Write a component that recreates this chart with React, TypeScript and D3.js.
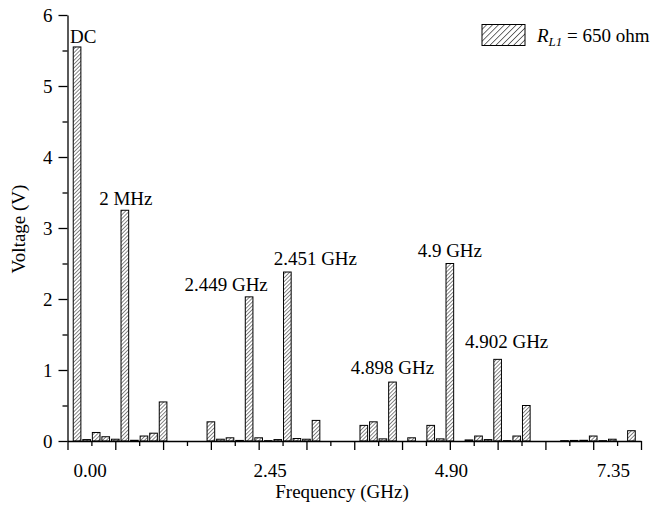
import * as d3 from "d3";
import { useEffect, useRef } from "react";

// ---- data ----
// bar slots 1..59 on the categorical x axis (0..60), null = no bar
const voltage: (number | null)[] = [
  5.55, 0.02, 0.12, 0.06, 0.025, 3.25, 0.01, 0.07, 0.11, 0.55, // 1-10
  null, null, null, null, 0.27, 0.025, 0.045, 0.008, 2.03, 0.045, // 11-20
  0.005, 0.02, 2.38, 0.035, 0.025, 0.29, null, null, null, null, // 21-30
  0.22, 0.27, 0.03, 0.83, null, 0.045, null, 0.22, 0.03, 2.5, // 31-40
  null, 0.015, 0.07, 0.02, 1.15, 0.005, 0.07, 0.5, null, null, // 41-50
  null, 0.005, 0.008, 0.01, 0.07, 0.005, 0.025, null, 0.145, // 51-59
];
const xTickLabels = ["0.00", "2.45", "4.90", "7.35"];
const xTickSlots = [2.36, 21.2, 40.15, 57.1];
const yTicks = [0, 1, 2, 3, 4, 5, 6];
const peakLabels = ["DC", "2 MHz", "2.449 GHz", "2.451 GHz", "4.898 GHz", "4.9 GHz", "4.902 GHz"];
const peakSlots = [1, 6, 19, 23, 34, 40, 45];

export default function App() {
  const ref = useRef<SVGSVGElement>(null);

  useEffect(() => {
    const width = 669;
    const height = 505;
    const font = "Liberation Serif, serif";

    const svg = d3.select(ref.current);
    svg.selectAll("*").remove();
    svg.attr("viewBox", `0 0 ${width} ${height}`);

    // ---- scales ----
    const x = d3.scaleLinear().domain([0, 60]).range([67.5, 641]);
    const y = d3.scaleLinear().domain([0, 6]).range([441, 15]);
    const slotW = x(1) - x(0);
    const barW = slotW * 0.8;

    // ---- hatch patterns ----
    const defs = svg.append("defs");
    const hatch = (id: string, step: number, sw: number) => {
      const p = defs
        .append("pattern")
        .attr("id", id)
        .attr("patternUnits", "userSpaceOnUse")
        .attr("width", step)
        .attr("height", step)
        .attr("patternTransform", "rotate(45)");
      p.append("rect").attr("width", step).attr("height", step).attr("fill", "#fff");
      p.append("line")
        .attr("x1", 0).attr("x2", 0)
        .attr("y1", 0).attr("y2", step)
        .attr("stroke", "#111")
        .attr("stroke-width", sw);
    };
    hatch("hatchBar", 2.7, 1);
    hatch("hatchLegend", 4.2, 1.2);

    // ---- bars ----
    const bars = voltage
      .map((v, i) => ({ slot: i + 1, v }))
      .filter((d) => d.v !== null) as { slot: number; v: number }[];

    svg.append("g")
      .selectAll("rect")
      .data(bars)
      .join("rect")
      .attr("x", (d) => x(d.slot) - barW / 2)
      .attr("y", (d) => y(d.v))
      .attr("width", barW)
      .attr("height", (d) => y(0) - y(d.v))
      .attr("fill", "url(#hatchBar)")
      .attr("stroke", "#000")
      .attr("stroke-width", 1);

    // ---- x axis ----
    const gx = svg.append("g").attr("transform", `translate(0,${y(0)})`);
    gx.call(
      d3.axisBottom(x)
        .tickValues(d3.range(0, 61, 5))
        .tickSize(9)
        .tickSizeOuter(0)
        .tickFormat(() => "")
    );
    gx.append("g").call(
      d3.axisBottom(x)
        .tickValues(d3.range(2.5, 60, 5))
        .tickSize(5)
        .tickSizeOuter(0)
        .tickFormat(() => "")
    ).select(".domain").remove();
    gx.selectAll("line, path").attr("stroke", "#000").attr("stroke-width", 1.3);

    svg.append("g")
      .selectAll("text")
      .data(xTickLabels)
      .join("text")
      .attr("x", (_, i) => x(xTickSlots[i]))
      .attr("y", 477)
      .attr("text-anchor", "middle")
      .attr("font-family", font)
      .attr("font-size", 19)
      .text((d) => d);

    // ---- y axis ----
    const gy = svg.append("g").attr("transform", `translate(${x(0)},0)`);
    gy.call(
      d3.axisLeft(y)
        .tickValues(yTicks)
        .tickSize(9)
        .tickSizeOuter(0)
        .tickPadding(6)
        .tickFormat(d3.format("d"))
    );
    gy.append("g").call(
      d3.axisLeft(y)
        .tickValues(d3.range(0.5, 6, 1))
        .tickSize(5)
        .tickFormat(() => "")
    ).select(".domain").remove();
    gy.selectAll("line, path").attr("stroke", "#000").attr("stroke-width", 1.3);
    gy.selectAll("text")
      .attr("font-family", font)
      .attr("font-size", 19)
      .attr("fill", "#000");

    // ---- axis titles ----
    svg.append("text")
      .attr("x", 342)
      .attr("y", 498)
      .attr("text-anchor", "middle")
      .attr("font-family", font)
      .attr("font-size", 19)
      .text("Frequency (GHz)");

    svg.append("text")
      .attr("transform", "translate(25,229) rotate(-90)")
      .attr("text-anchor", "middle")
      .attr("font-family", font)
      .attr("font-size", 19)
      .text("Voltage (V)");

    // ---- peak annotations ----
    const annoDx = [-7, 1, -23, 28, 0, 0, 9];
    const annoDy = [-4, -5, -6, -7, -8, -7, -11];
    const annoAnchor = ["start", "middle", "middle", "middle", "middle", "middle", "middle"];
    svg.append("g")
      .selectAll("text")
      .data(peakLabels)
      .join("text")
      .attr("x", (_, i) => x(peakSlots[i]) + annoDx[i])
      .attr("y", (_, i) => y(voltage[peakSlots[i] - 1] as number) + annoDy[i])
      .attr("text-anchor", (_, i) => annoAnchor[i])
      .attr("font-family", font)
      .attr("font-size", 19)
      .text((d) => d);

    // ---- legend ----
    const lg = svg.append("g");
    lg.append("rect")
      .attr("x", 482)
      .attr("y", 24.5)
      .attr("width", 43)
      .attr("height", 21)
      .attr("fill", "url(#hatchLegend)")
      .attr("stroke", "#000")
      .attr("stroke-width", 1);
    const lt = lg.append("text")
      .attr("x", 537)
      .attr("y", 42)
      .attr("font-family", font)
      .attr("font-size", 19);
    lt.append("tspan").attr("font-style", "italic").text("R");
    lt.append("tspan")
      .attr("font-style", "italic")
      .attr("font-size", 13)
      .attr("dy", 4)
      .text("L1");
    lt.append("tspan").attr("dy", -4).text(" = 650 ohm");
  }, []);

  return (
    <svg
      ref={ref}
      width={669}
      height={505}
      style={{ position: "absolute", left: 0, top: 0, background: "#fff" }}
    />
  );
}
